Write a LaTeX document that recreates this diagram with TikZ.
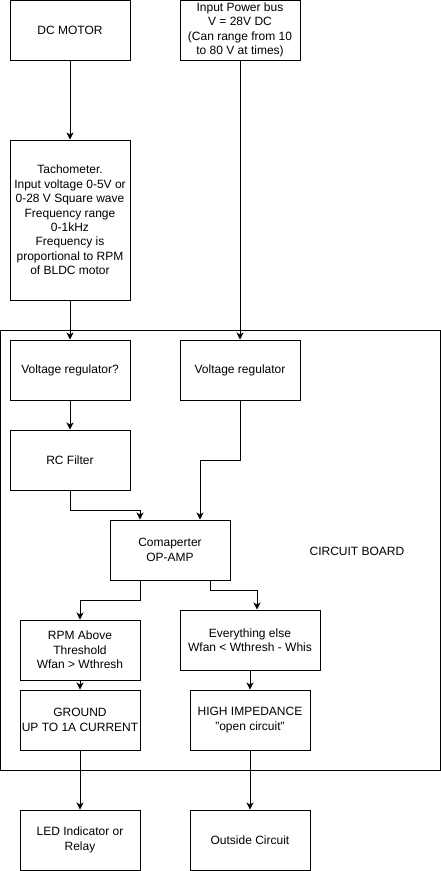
\documentclass[tikz,border=0pt]{standalone}
\usepackage{fontspec}
\setmainfont{Liberation Sans}
\usetikzlibrary{arrows.meta}
\tikzset{
  box/.style={draw, line width=1pt, minimum width=120pt, minimum height=60pt, align=center,
    inner sep=0pt, font=\fontsize{12}{14.4}\selectfont},
  arr/.style={draw, line width=1pt, -{Stealth[length=7pt,width=7pt,inset=2pt]}},
  lbl/.style={font=\fontsize{12}{14.4}\selectfont, inner sep=0pt}
}
\begin{document}
\begin{tikzpicture}[x=1pt,y=-1pt]
\useasboundingbox (0,0) rectangle (441,871);
% circuit board
\node[draw, line width=1pt, minimum width=439.5pt, minimum height=440pt, inner sep=0pt] (board) at (220.25,550) {};
\node[lbl] (boardlbl) at (357,551) {CIRCUIT BOARD};

\node[box] (motor) at (70,30) {DC MOTOR};
\node[box] (power) at (240,30) {Input Power bus\\V = 28V DC\\(Can range from 10\\to 80 V at times)};
\node[box, minimum height=160pt] (tacho) at (70,220) {Tachometer.\\Input voltage 0-5V or\\0-28 V Square wave\\Frequency range\\0-1kHz\\Frequency is\\proportional to RPM\\of BLDC motor};
\node[box] (vrq) at (70,370) {Voltage regulator?};
\node[box] (vr) at (240,370) {Voltage regulator};
\node[box] (rc) at (70,460) {RC Filter};
\node[box] (comp) at (170,550) {Comaperter\\OP-AMP};
\node[box] (rpm) at (80,650) {RPM Above\\Threshold\\Wfan > Wthresh};
\node[box, minimum width=140pt] (else) at (250,640) {Everything else\\Wfan < Wthresh - Whis};
\node[box] (gnd) at (80,720) {GROUND\\UP TO 1A CURRENT};
\node[box] (hi) at (250,720) {HIGH IMPEDANCE\\"open circuit"};
\node[box] (led) at (80,840) {LED Indicator or\\Relay};
\node[box] (out) at (250,840) {Outside Circuit};

\draw[arr] (motor.south) -- (tacho.north);
\draw[arr] (power.south) -- (vr.north);
\draw[arr] (tacho.south) -- (vrq.north);
\draw[arr] (vrq.south) -- (rc.north);
\draw[arr] (rc.south) -- ++(0,20) -| ([xshift=-30pt]comp.north);
\draw[arr] (vr.south) -- ++(0,60) -| ([xshift=30pt]comp.north);
\draw[arr] ([xshift=-30pt]comp.south) -- ++(0,20) -| (rpm.north);
\draw[arr] ([xshift=40pt]comp.south) -- ++(0,10) -| ([xshift=7pt]else.north);
\draw[arr] (rpm.south) -- (gnd.north);
\draw[arr] (else.south) -- (hi.north);
\draw[arr] (gnd.south) -- (led.north);
\draw[arr] (hi.south) -- (out.north);
\end{tikzpicture}
\end{document}
